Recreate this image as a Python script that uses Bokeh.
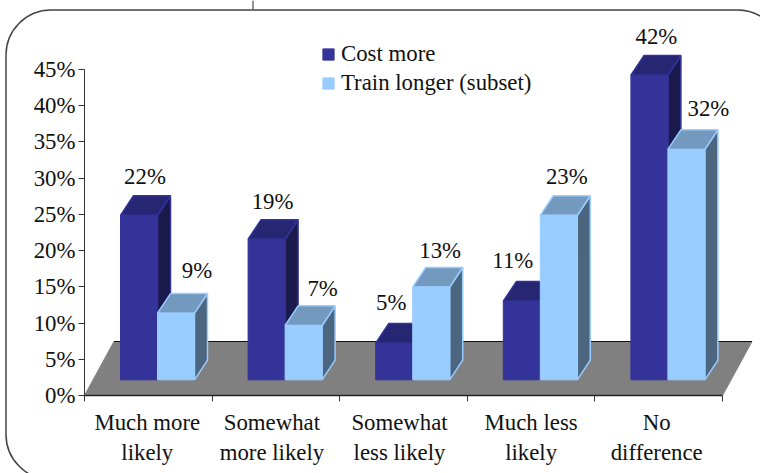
from bokeh.plotting import figure
from bokeh.models import Range1d, FixedTicker, BoxAnnotation, Legend, LegendItem, GlobalInlineStyleSheet
from bokeh.core.properties import value
from bokeh.embed import file_html
from bokeh.resources import INLINE

categories = ["Much more\nlikely", "Somewhat\nmore likely", "Somewhat\nless likely", "Much less\nlikely", "No\ndifference"]
series_names = ["Cost more", "Train longer (subset)"]
cost_more = [22.7, 19.4, 5.05, 10.85, 42.05]
train_longer = [9.2, 7.5, 12.8, 22.7, 31.8]
cost_labels = ["22%", "19%", "5%", "11%", "42%"]
train_labels = ["9%", "7%", "13%", "23%", "32%"]
y_ticks = [0, 5, 10, 15, 20, 25, 30, 35, 40, 45]

W, H = 760, 473
FONT = "Liberation Serif"
FS = "22.8px"
# pixel layout of the frame
X0, X5, Y0, Y45 = 84.0, 722.0, 395.0, 69.0
ux = (X5 - X0) / 5
uy = (Y0 - Y45) / 45
dxu = lambda px: px / ux
dyu = lambda px: px / uy
sx = lambda px: (px - X0) / ux
sy = lambda px: (Y0 - px) / uy
# perspective (data units)
FLOOR_DX, FLOOR_DY = dxu(29.5), dyu(54)
BASE = dyu(15.7)
BAR_DX, BAR_DY = dxu(13), dyu(19.6)
BAR_START, BAR_W = dxu(36), dxu(37)

p = figure(width=W, height=H, output_backend="svg", toolbar_location=None,
           x_range=Range1d(sx(0), sx(W)),
           y_range=Range1d(sy(H), sy(0)),
           min_border=0, min_border_left=0, min_border_right=0, min_border_top=0, min_border_bottom=0,
           outline_line_color=None, background_fill_color=None, border_fill_color=None)
p.stylesheets = [GlobalInlineStyleSheet(css="html,body{margin:0;padding:0;overflow:hidden}")]
p.grid.visible = False

# rounded panel
p.add_layout(BoxAnnotation(left=sx(5.5), right=sx(782), top=sy(9.5), bottom=sy(479),
                           fill_color=None, line_color="#444444", line_alpha=1, line_width=1.5,
                           border_radius=45, level="underlay"))
# stub above the panel
p.segment(x0=[sx(252.5)], x1=[sx(252.5)], y0=[sy(0)], y1=[sy(9)], line_color="#222222", line_width=1)

# floor
p.patch(x=[0, 5, 5 + FLOOR_DX, FLOOR_DX], y=[0, 0, FLOOR_DY, FLOOR_DY],
        fill_color="#808080", line_color="#808080", line_width=1)
p.segment(x0=[FLOOR_DX], x1=[5 + FLOOR_DX], y0=[FLOOR_DY], y1=[FLOOR_DY], line_color="#111111", line_width=1)


def bars(vals, shift, front, top, side, line):
    xl = [i + BAR_START + shift * BAR_W for i in range(5)]
    xr = [x + BAR_W for x in xl]
    ytop = [v + BASE for v in vals]
    top_x = [[a, b, b + BAR_DX, a + BAR_DX] for a, b in zip(xl, xr)]
    top_y = [[t, t, t + BAR_DY, t + BAR_DY] for t in ytop]
    side_x = [[b, b + BAR_DX, b + BAR_DX, b] for b in xr]
    side_y = [[BASE, BASE + BAR_DY, t + BAR_DY, t] for t in ytop]
    p.patches(side_x, side_y, fill_color=side, line_color=line, line_width=1.5)
    p.patches(top_x, top_y, fill_color=top, line_color=line, line_width=1.5)
    return p.quad(left=xl, right=xr, bottom=[BASE] * 5, top=ytop, fill_color=front, line_color=line, line_width=1)


r1 = bars(cost_more, 0, "#333399", "#262673", "#1a1a4d", "#333399")
r2 = bars(train_longer, 1, "#99ccff", "#7399bf", "#4d6680", "#99ccff")

# value labels: per-label pixel nudges as in the reference
cost_nudge_x = [6, 6, -3, -9, 7]
cost_nudge_y = [-19.4, -17.7, -21.4, -21, -19.4]
train_nudge_x = [21, 19, 9, 8, 22]
train_nudge_y = [-23, -17, -17, -19.4, -21.7]
xs, ys, ts, ox, oy = [], [], [], [], []
for i in range(5):
    c = i + BAR_START + BAR_W / 2
    xs += [c, c + BAR_W]
    ys += [cost_more[i] + BASE + BAR_DY, train_longer[i] + BASE + BAR_DY]
    ts += [cost_labels[i], train_labels[i]]
    ox += [cost_nudge_x[i], train_nudge_x[i]]
    oy += [cost_nudge_y[i], train_nudge_y[i]]
p.text(x=xs, y=ys, text=ts, x_offset=ox, y_offset=oy, text_align="center", text_baseline="middle",
       text_font=value(FONT), text_font_size=value(FS), text_color="#111111")

# axes
p.yaxis.fixed_location = 0
p.yaxis.bounds = (0, 45)
p.yaxis.ticker = FixedTicker(ticks=y_ticks)
p.yaxis.major_label_overrides = {t: f"{t}%" for t in y_ticks}
p.yaxis.major_tick_in = 0
p.yaxis.major_tick_out = 6
p.yaxis.minor_tick_out = 0
p.yaxis.minor_tick_in = 0
p.yaxis.major_label_standoff = 3
p.yaxis.major_label_text_font = FONT
p.yaxis.major_label_text_font_size = FS
p.yaxis.major_label_text_color = "#111111"
p.yaxis.axis_line_color = "#333333"
p.yaxis.major_tick_line_color = "#333333"

p.xaxis.fixed_location = 0
p.xaxis.bounds = (0, 5)
p.xaxis.ticker = FixedTicker(ticks=[0, 1, 2, 3, 4, 5])
p.xaxis.major_label_text_font_size = "0px"
p.xaxis.major_label_text_color = None
p.xaxis.major_tick_in = 0
p.xaxis.major_tick_out = 6
p.xaxis.minor_tick_out = 0
p.xaxis.minor_tick_in = 0
p.xaxis.axis_line_color = "#222222"
p.xaxis.axis_line_width = 1.5
p.xaxis.major_tick_line_color = "#333333"

p.text(x=[i + 0.5 for i in range(5)], y=[0] * 5, text=categories,
       x_offset=[-1, -4, -4, 0, -2], y_offset=[14] * 5,
       text_align="center", text_baseline="top", text_line_height=1.2,
       text_font=value(FONT), text_font_size=value(FS), text_color="#111111")

legend = Legend(items=[LegendItem(label=series_names[0], renderers=[r1]),
                       LegendItem(label=series_names[1], renderers=[r2])],
                location=(321, H - 96), orientation="vertical",
                background_fill_color=None, border_line_color=None,
                glyph_width=14, glyph_height=14, label_standoff=6, spacing=3,
                padding=8, margin=0, label_text_font=FONT, label_text_font_size=FS, label_text_color="#111111")
p.add_layout(legend, "center")

open("out.html", "w").write(file_html(p, INLINE))
